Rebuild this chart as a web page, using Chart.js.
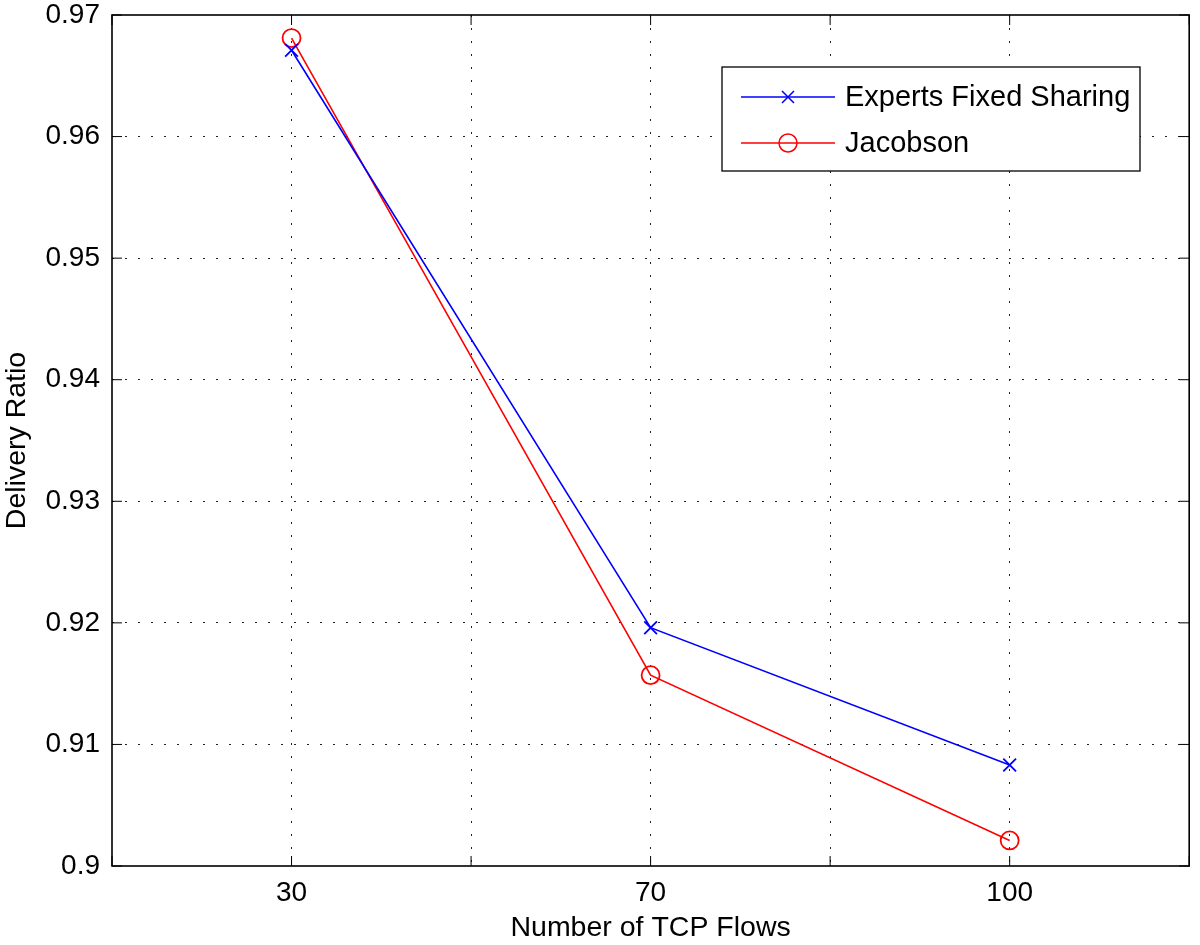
<!DOCTYPE html>
<html>
<head>
<meta charset="utf-8">
<script src="https://cdn.jsdelivr.net/npm/chart.js@4.4.0/dist/chart.umd.min.js"></script>
<style>
    html, body { margin: 0; padding: 0; background: #fff; }
</style>
</head>
<body>
<canvas id="myChart" width="1200" height="945"></canvas>
<script>
// data
const flowCounts = [30, 70, 100];
const expertsFixedSharing = [0.9671, 0.9196, 0.9083];
const jacobson = [0.9681, 0.9157, 0.9021];
const seriesNames = ['Experts Fixed Sharing', 'Jacobson'];
const yMin = 0.9, yMax = 0.97, yStep = 0.01;

const FONT = "'Liberation Sans', Arial, Helvetica, sans-serif";

// x positions 1..n like the original plot
function toPoints(values) {
    return values.map((v, i) => ({ x: i + 1, y: v }));
}

// hide grid line on the frame edges
function innerGrid(ctx) {
    const ticks = ctx.scale.ticks;
    if (ctx.index === 0 || ctx.index === ticks.length - 1) return 'rgba(0,0,0,0)';
    return '#222';
}

function noPadding(s) {
    s.paddingTop = 0; s.paddingBottom = 0;
    s.paddingLeft = 0; s.paddingRight = 0;
}

//#region frame, inward ticks and legend
const frameTicks = {
    id: 'frameTicks',
    afterDraw(chart) {
        const { ctx, chartArea: a, scales } = chart;
        ctx.save();
        ctx.strokeStyle = '#000';
        ctx.lineWidth = 1;
        ctx.beginPath();
        scales.x.ticks.forEach(t => {
            const px = scales.x.getPixelForValue(t.value);
            ctx.moveTo(px, a.bottom); ctx.lineTo(px, a.bottom - 10);
            ctx.moveTo(px, a.top); ctx.lineTo(px, a.top + 10);
        });
        scales.y.ticks.forEach(t => {
            const py = scales.y.getPixelForValue(t.value);
            ctx.moveTo(a.left, py); ctx.lineTo(a.left + 10, py);
            ctx.moveTo(a.right, py); ctx.lineTo(a.right - 10, py);
        });
        ctx.stroke();
        ctx.lineWidth = 1.6;
        ctx.strokeRect(a.left, a.top, a.right - a.left, a.bottom - a.top);

        // legend box
        const bx = 722, by = 67, bw = 418, bh = 104;
        ctx.fillStyle = '#fff';
        ctx.fillRect(bx, by, bw, bh);
        ctx.lineWidth = 1.3;
        ctx.strokeRect(bx, by, bw, bh);
        const rows = [97, 143];
        chart.data.datasets.forEach((ds, i) => {
            const ry = rows[i];
            ctx.strokeStyle = ds.borderColor;
            ctx.lineWidth = 1.5;
            ctx.beginPath();
            ctx.moveTo(741, ry); ctx.lineTo(835, ry);
            ctx.stroke();
            ctx.beginPath();
            if (ds.pointStyle === 'crossRot') {
                const r = 6;
                ctx.moveTo(788 - r, ry - r); ctx.lineTo(788 + r, ry + r);
                ctx.moveTo(788 - r, ry + r); ctx.lineTo(788 + r, ry - r);
            } else {
                ctx.arc(788, ry, 9, 0, Math.PI * 2);
            }
            ctx.stroke();
            ctx.fillStyle = '#000';
            ctx.font = '29px ' + FONT;
            ctx.textBaseline = 'middle';
            ctx.textAlign = 'left';
            ctx.fillText(ds.label, 845, ry + 1);
        });
        ctx.restore();
    }
};
//#endregion

const ctx = document.getElementById('myChart').getContext('2d');
const myChart = new Chart(ctx, {
    type: 'line',
    data: {
        datasets: [
            {
                label: seriesNames[0],
                data: toPoints(expertsFixedSharing),
                borderColor: '#0000ff',
                backgroundColor: 'rgba(0,0,0,0)',
                borderWidth: 1.6,
                pointStyle: 'crossRot',
                pointRadius: 9,
                pointBorderWidth: 1.8,
                pointBorderColor: '#0000ff',
                tension: 0
            },
            {
                label: seriesNames[1],
                data: toPoints(jacobson),
                borderColor: '#ff0000',
                backgroundColor: 'rgba(0,0,0,0)',
                borderWidth: 1.6,
                pointStyle: 'circle',
                pointRadius: 9,
                pointBorderWidth: 1.8,
                pointBorderColor: '#ff0000',
                pointBackgroundColor: 'rgba(0,0,0,0)',
                tension: 0
            }
        ]
    },
    options: {
        responsive: false,
        animation: false,
        devicePixelRatio: 1,
        layout: { padding: { top: 15, right: 7, left: 0, bottom: 0 } },
        plugins: {
            legend: { display: false },
            tooltip: { enabled: false }
        },
        scales: {
            x: {
                type: 'linear',
                min: 0.5,
                max: 3.5,
                afterFit: s => { s.height = 79; noPadding(s); },
                border: { display: false, dash: [2, 11] },
                grid: { color: innerGrid, lineWidth: 1, drawTicks: false },
                ticks: {
                    stepSize: 0.5,
                    autoSkip: false,
                    maxRotation: 0,
                    padding: 10,
                    color: '#000',
                    font: { family: FONT, size: 28 },
                    callback: v => Number.isInteger(v) ? String(flowCounts[v - 1]) : ''
                },
                title: {
                    display: true,
                    text: 'Number of TCP Flows',
                    color: '#000',
                    font: { family: FONT, size: 28.5 },
                    padding: { top: 0, bottom: 0 }
                }
            },
            y: {
                min: yMin,
                max: yMax,
                afterFit: s => { s.width = 112; noPadding(s); },
                border: { display: false, dash: [2, 11] },
                grid: { color: innerGrid, lineWidth: 1, drawTicks: false },
                ticks: {
                    stepSize: yStep,
                    padding: 12,
                    color: '#000',
                    font: { family: FONT, size: 28 },
                    callback: v => String(Number(v.toFixed(2)))
                },
                title: {
                    display: true,
                    text: 'Delivery Ratio',
                    color: '#000',
                    font: { family: FONT, size: 28.5 },
                    padding: { top: 0, bottom: 0 }
                }
            }
        }
    },
    plugins: [frameTicks]
});
</script>
</body>
</html>
